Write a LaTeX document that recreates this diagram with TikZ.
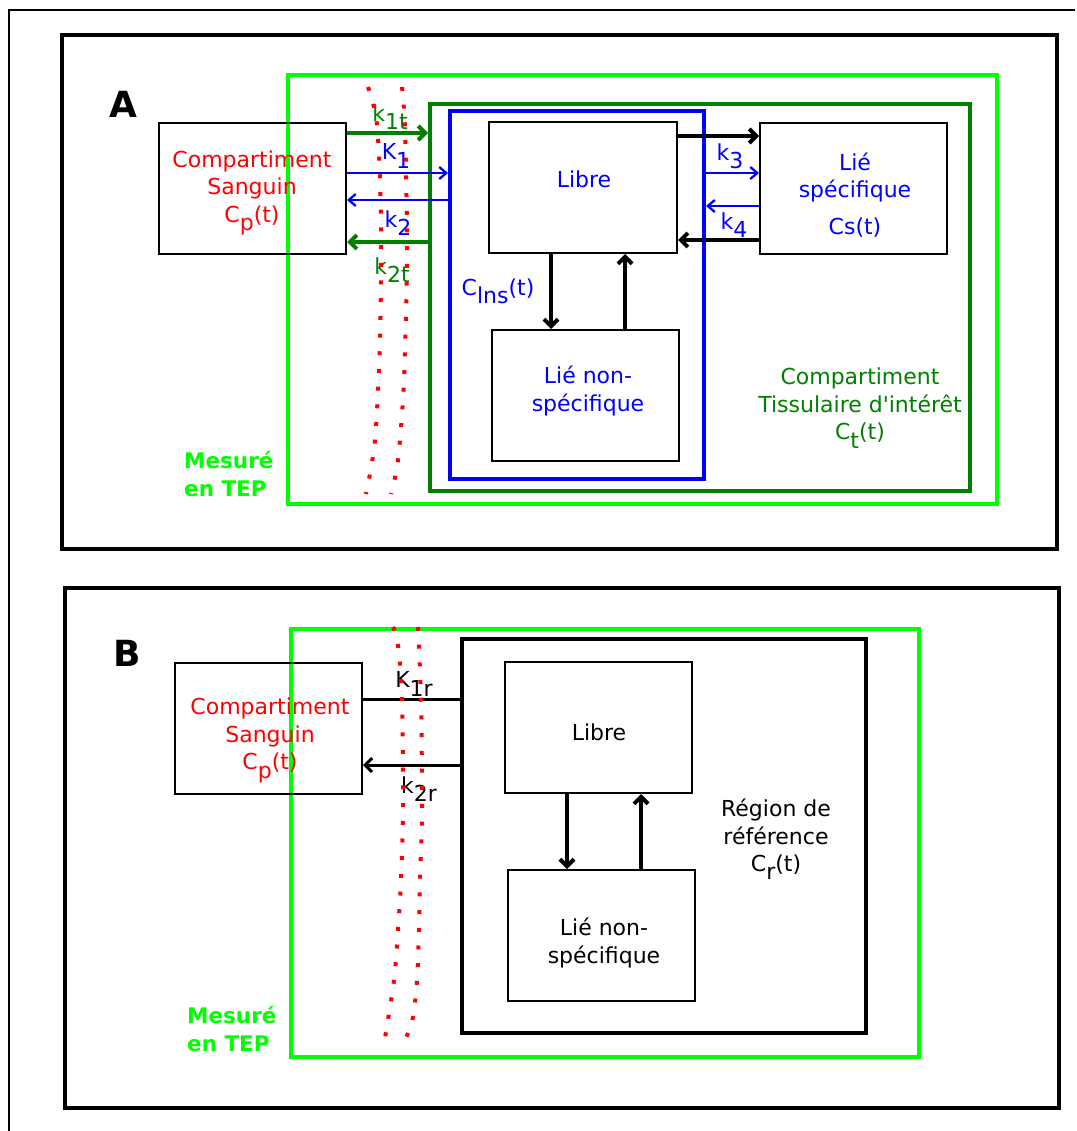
\documentclass[tikz,border=0pt]{standalone}
\usepackage{fontspec}
\setmainfont{DejaVu Sans}
\usetikzlibrary{arrows.meta}
\definecolor{lgreen}{HTML}{00FF00}
\definecolor{dgreen}{HTML}{008000}
\definecolor{pblue}{HTML}{0000FF}
\definecolor{pred}{HTML}{FF0000}
\newcommand\lo[1]{\raisebox{-0.38em}{#1}}
\begin{document}
\begin{tikzpicture}[x=1pt,y=-1pt,
  txt/.style={font=\fontsize{22}{27.5}\selectfont, align=center, inner sep=0pt},
  bigletter/.style={font=\fontsize{36}{40}\selectfont\bfseries, inner sep=0pt},
  mes/.style={font=\fontsize{21.5}{27.5}\selectfont\bfseries, text=lgreen, align=left, inner sep=0pt, anchor=west},
  frm/.style={draw, line width=4pt, inner sep=0pt},
  box/.style={draw, line width=2pt, inner sep=0pt, minimum width=187pt, minimum height=131pt},
  thk/.style={line width=4pt, -{Straight Barb[length=7pt,width=14pt]}},
  thn/.style={line width=2.3pt, -{Straight Barb[length=7pt,width=12pt]}},
  reddot/.style={pred, line width=4pt, dash pattern=on 4pt off 13.7pt}
]
\useasboundingbox (0,0) rectangle (1076,1131);
\draw[line width=2pt] (9,1131) -- (9,10) -- (1075,10);

% ---------- Panel A ----------
\node[frm, minimum width=995pt, minimum height=514pt] (frameA) at (559.5,292) {};
\node[bigletter] (labA) at (123,104) {A};
\node[frm, draw=lgreen, minimum width=709pt, minimum height=429pt] (mesA) at (642.5,289.5) {};
\node[frm, draw=dgreen, minimum width=540pt, minimum height=387pt] (tissA) at (700,297.5) {};
\node[frm, draw=pblue, minimum width=254pt, minimum height=368pt] (insA) at (577,295) {};
\node[box] (sangA) at (252.5,188.5) {};
\node[box, minimum width=188pt] (libA) at (583,187.5) {};
\node[box] (libnsA) at (585.5,395.5) {};
\node[box] (lspA) at (853.5,188.5) {};

\node[txt, text=pred] (sangAt) at (252,193) {Compartiment\\Sanguin\\C\lo{p}(t)};
\node[txt, text=pblue] (libAt) at (584,179) {Libre};
\node[txt, text=pblue] (libnsAt) at (588,391) {Lié non-\\spécifique};
\node[txt, text=pblue] (lspAt) at (855,195) {Lié\\spécifique\\[9pt]Cs(t)};
\node[txt, text=pblue] (insAt) at (498,291) {C\lo{lns}(t)};
\node[txt, text=dgreen] (tissAt) at (860,408) {Compartiment\\Tissulaire d\textquotesingle intérêt\\C\lo{t}(t)};
\node[mes] (mesAt) at (184,474) {Mesuré\\en TEP};

\coordinate (ya1) at (0,133);
\coordinate (ya2) at (0,173);
\coordinate (ya3) at (0,200);
\coordinate (ya4) at (0,242);
\coordinate (yb1) at (0,136);
\coordinate (yb2) at (0,173);
\coordinate (yb3) at (0,206);
\coordinate (yb4) at (0,240);
\coordinate (xd) at (551,0);
\coordinate (xu) at (625,0);

\draw[thk, dgreen] (sangA.east |- ya1) -- (tissA.west |- ya1);
\draw[thn, pblue] (sangA.east |- ya2) -- (insA.west |- ya2);
\draw[thn, pblue] (insA.west |- ya3) -- (sangA.east |- ya3);
\draw[thk, dgreen] (tissA.west |- ya4) -- (sangA.east |- ya4);

\draw[thk] (libA.east |- yb1) -- (lspA.west |- yb1);
\draw[thn, pblue] (insA.east |- yb2) -- (lspA.west |- yb2);
\draw[thn, pblue] (lspA.west |- yb3) -- (insA.east |- yb3);
\draw[thk] (lspA.west |- yb4) -- (libA.east |- yb4);

\draw[thk] (xd |- libA.south) -- (xd |- libnsA.north);
\draw[thk] (xu |- libnsA.north) -- (xu |- libA.south);

\node[txt, text=dgreen] (k1t) at (390,117) {k\lo{1t}};
\node[txt, text=pblue] (K1) at (396,156) {K\lo{1}};
\node[txt, text=pblue] (k2) at (398,223) {k\lo{2}};
\node[txt, text=dgreen] (k2t) at (392,270) {k\lo{2t}};
\node[txt, text=pblue] (k3) at (730,156) {k\lo{3}};
\node[txt, text=pblue] (k4) at (734,225) {k\lo{4}};

\draw[reddot] plot[smooth] coordinates {(368,87) (377,125) (381,220) (380,340) (375,440) (366,494)};
\draw[reddot] plot[smooth] coordinates {(402,87) (405,130) (407,250) (404,380) (398,460) (391,494)};

% ---------- Panel B ----------
\node[frm, minimum width=994pt, minimum height=520pt] (frameB) at (562,848) {};
\node[bigletter] (labB) at (127,653) {B};
\node[frm, draw=lgreen, minimum width=628pt, minimum height=428pt] (mesB) at (605,843) {};
\node[frm, minimum width=404pt, minimum height=394pt] (refB) at (664,836) {};
\node[box] (sangB) at (268.5,728.5) {};
\node[box] (libB) at (598.5,727.5) {};
\node[box] (libnsB) at (601.5,935.5) {};

\node[txt, text=pred] (sangBt) at (270,740.5) {Compartiment\\Sanguin\\C\lo{p}(t)};
\node[txt] (libBt) at (599,732) {Libre};
\node[txt] (libnsBt) at (604,943) {Lié non-\\spécifique};
\node[txt] (refBt) at (776,839.5) {Région de\\référence\\C\lo{r}(t)};
\node[mes] (mesBt) at (187,1029) {Mesuré\\en TEP};

\coordinate (yc1) at (0,699);
\coordinate (yc2) at (0,765);
\coordinate (xd2) at (567,0);
\coordinate (xu2) at (641,0);

\draw[line width=3pt] (sangB.east |- yc1) -- (refB.west |- yc1);
\draw[thk, line width=3pt] (refB.west |- yc2) -- (sangB.east |- yc2);
\draw[thk] (xd2 |- libB.south) -- (xd2 |- libnsB.north);
\draw[thk] (xu2 |- libnsB.north) -- (xu2 |- libB.south);

\node[txt] (K1r) at (414,684) {K\lo{1r}};
\node[txt] (k2r) at (419,789) {k\lo{2r}};

\draw[reddot] plot[smooth] coordinates {(393,627) (398,645) (402,700) (403,805) (401,880) (398,930) (394,980) (385,1038)};
\draw[reddot] plot[smooth] coordinates {(418,627) (421,700) (422,810) (420,880) (419,930) (417,980) (413,1017) (406,1038)};
\end{tikzpicture}
\end{document}
